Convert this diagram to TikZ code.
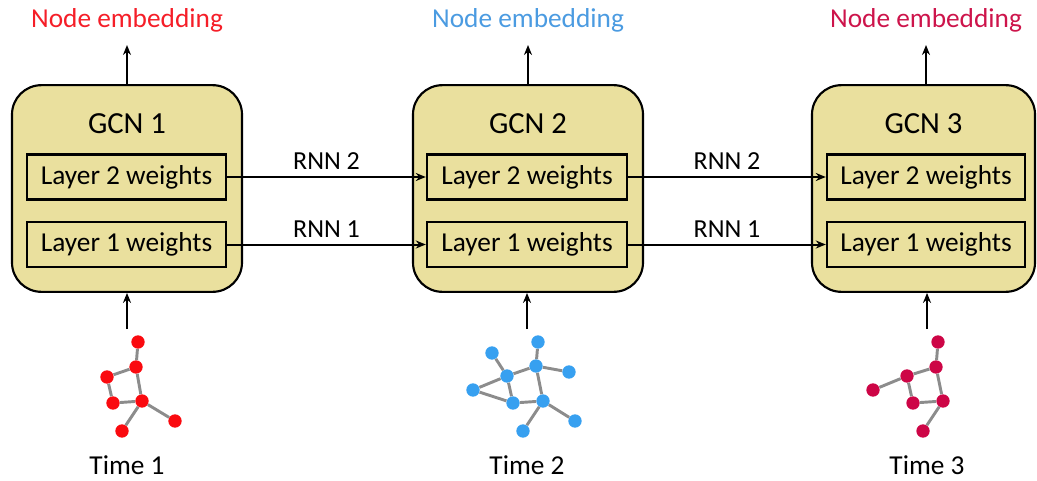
\documentclass[tikz,border=0pt]{standalone}
\usepackage{fontspec}
\setmainfont{Carlito}
\usetikzlibrary{arrows.meta}

\definecolor{khaki}{RGB}{234,224,158}
\definecolor{embA}{RGB}{245,30,40}
\definecolor{embB}{RGB}{75,155,225}
\definecolor{embC}{RGB}{205,20,75}
\definecolor{dotA}{RGB}{250,10,15}
\definecolor{dotB}{RGB}{55,160,240}
\definecolor{dotC}{RGB}{205,5,70}
\definecolor{edgegray}{RGB}{140,140,140}

\tikzset{
  gcnbox/.style={draw, line width=1.6pt, rounded corners=22pt, fill=khaki,
    minimum height=155pt, inner sep=0pt},
  layerbox/.style={draw, line width=1.8pt, minimum height=33.5pt, inner sep=0pt,
    font=\fontsize{20.5}{23}\selectfont},
  gcntitle/.style={font=\fontsize{23}{26}\selectfont},
  caption/.style={font=\fontsize{20.5}{23}\selectfont},
  rnnlabel/.style={font=\fontsize{19.5}{22}\selectfont},
  flow/.style={line width=1.5pt, -{Stealth[length=7.5pt,width=6pt]}},
  gnode/.style={circle, inner sep=0pt, minimum size=10pt},
  gedge/.style={draw=edgegray, line width=2.2pt},
}

\begin{document}
\begin{tikzpicture}[x=0.75pt, y=-0.75pt]
\useasboundingbox (0,0) rectangle (1037,481);

% GCN blocks
\node[gcnbox, minimum width=172.5pt] (g1) at (127,188.5) {};
\node[gcnbox, minimum width=172.5pt] (g2) at (528,188.5) {};
\node[gcnbox, minimum width=167.25pt] (g3) at (923.5,188.5) {};

\node[gcntitle] (t1) at (127,124) {GCN 1};
\node[gcntitle] (t2) at (528,124) {GCN 2};
\node[gcntitle] (t3) at (923.5,124) {GCN 3};

% weight layers
\node[layerbox, minimum width=149.25pt] (a2) at (126.5,177) {Layer 2 weights};
\node[layerbox, minimum width=149.25pt] (a1) at (126.5,244.5) {Layer 1 weights};
\node[layerbox, minimum width=150pt] (b2) at (527,177) {Layer 2 weights};
\node[layerbox, minimum width=150pt] (b1) at (527,244.5) {Layer 1 weights};
\node[layerbox, minimum width=148.5pt] (c2) at (926,177) {Layer 2 weights};
\node[layerbox, minimum width=148.5pt] (c1) at (926,244.5) {Layer 1 weights};

% recurrent links between time steps
\draw[flow] (a2.east) -- node[rnnlabel, above=1.5pt] (r12) {RNN 2} (b2.west);
\draw[flow] (a1.east) -- node[rnnlabel, above=1.5pt] (r11) {RNN 1} (b1.west);
\draw[flow] (b2.east) -- node[rnnlabel, above=1.5pt] (r22) {RNN 2} (c2.west);
\draw[flow] (b1.east) -- node[rnnlabel, above=1.5pt] (r21) {RNN 1} (c1.west);

% outputs
\node[caption, text=embA] (e1) at (127,20) {Node embedding};
\node[caption, text=embB] (e2) at (528,20) {Node embedding};
\node[caption, text=embC] (e3) at (926,20) {Node embedding};
\coordinate (o1) at (127,45);
\coordinate (o2) at (528,45);
\coordinate (o3) at (926,45);
\draw[flow] (g1.north) -- (o1);
\draw[flow] (g2.north) -- (o2);
\draw[flow] (g3.north -| o3) -- (o3);

% inputs
\coordinate (i1) at (127,329);
\coordinate (i2) at (527,329);
\coordinate (i3) at (927,329);
\draw[flow] (i1) -- (i1 |- g1.south);
\draw[flow] (i2) -- (i2 |- g2.south);
\draw[flow] (i3) -- (i3 |- g3.south);

\node[caption] (s1) at (127,465) {Time 1};
\node[caption] (s2) at (527,465) {Time 2};
\node[caption] (s3) at (927,465) {Time 3};

% snapshot graph at time 1
\begin{scope}[every node/.style={gnode, fill=dotA}]
\node (p1) at (138,342) {};
\node (p2) at (136,367) {};
\node (p3) at (107,377) {};
\node (p4) at (113,403) {};
\node (p5) at (142,401) {};
\node (p6) at (175,421) {};
\node (p7) at (122,431) {};
\end{scope}

% snapshot graph at time 2
\begin{scope}[every node/.style={gnode, fill=dotB}]
\node (q1) at (538,342) {};
\node (q2) at (492,353) {};
\node (q3) at (536,366) {};
\node (q4) at (507,376) {};
\node (q5) at (569,372) {};
\node (q6) at (473,390) {};
\node (q7) at (513,403) {};
\node (q8) at (543,401) {};
\node (q9) at (575,421) {};
\node (q10) at (523,431) {};
\end{scope}

% snapshot graph at time 3
\begin{scope}[every node/.style={gnode, fill=dotC}]
\node (u1) at (938,342) {};
\node (u2) at (936,367) {};
\node (u3) at (907,376) {};
\node (u4) at (873,390) {};
\node (u5) at (913,403) {};
\node (u6) at (943,401) {};
\node (u7) at (923,431) {};
\end{scope}

% graph edges between the dots
\begin{scope}[gedge]
\draw (p1) -- (p2) (p2) -- (p3) (p3) -- (p4) (p4) -- (p5) (p2) -- (p5)
      (p5) -- (p6) (p5) -- (p7);
\draw (q1) -- (q3) (q2) -- (q4) (q3) -- (q4) (q3) -- (q5) (q4) -- (q6)
      (q6) -- (q7) (q4) -- (q7) (q7) -- (q8) (q3) -- (q8) (q8) -- (q9)
      (q8) -- (q10);
\draw (u1) -- (u2) (u2) -- (u3) (u3) -- (u4) (u3) -- (u5) (u5) -- (u6)
      (u2) -- (u6) (u6) -- (u7);
\end{scope}
\end{tikzpicture}
\end{document}
